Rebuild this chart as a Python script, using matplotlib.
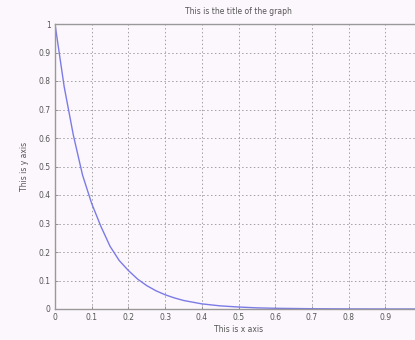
import numpy as np
import matplotlib
matplotlib.use("Agg")
import matplotlib.pyplot as plt

# decay curve sampled along x
x = [0.0, 0.025, 0.05, 0.075, 0.1, 0.125, 0.15, 0.175, 0.2, 0.225, 0.25,
     0.275, 0.3, 0.325, 0.35, 0.375, 0.4, 0.45, 0.5, 0.55, 0.6, 0.7,
     0.8, 0.9, 1.0]
y = [1.0, 0.78, 0.61, 0.47, 0.37, 0.29, 0.22, 0.17, 0.135, 0.105, 0.082,
     0.064, 0.05, 0.039, 0.03, 0.024, 0.018, 0.011, 0.007, 0.004, 0.0025,
     0.001, 0.0003, 0.0001, 0.0]

xticks = [0, 0.1, 0.2, 0.3, 0.4, 0.5, 0.6, 0.7, 0.8, 0.9]
xticklabels = ["0", "0.1", "0.2", "0.3", "0.4", "0.5", "0.6", "0.7", "0.8", "0.9"]
yticks = [0, 0.1, 0.2, 0.3, 0.4, 0.5, 0.6, 0.7, 0.8, 0.9, 1.0]
yticklabels = ["0", "0.1", "0.2", "0.3", "0.4", "0.5", "0.6", "0.7", "0.8", "0.9", "1"]

bg = "#fcf7fc"
txt = "#555555"

fig = plt.figure(figsize=(4.15, 3.4), dpi=100, facecolor=bg)
W, H = 415, 340
ax = fig.add_axes([55 / W, (H - 309) / H, (422 - 55) / W, (309 - 24) / H])
ax.set_facecolor(bg)

ax.plot(x, y, color="#7b7be6", lw=1.0)

ax.set_xlim(0, 1)
ax.set_ylim(0, 1)
ax.set_xticks(xticks)
ax.set_xticklabels(xticklabels)
ax.set_yticks(yticks)
ax.set_yticklabels(yticklabels)
ax.grid(True, color="#a0a0a0", linestyle=(0, (1.5, 2.5)), lw=0.7)
ax.tick_params(direction="in", length=2, width=0.6, colors="#888888",
               labelcolor=txt, labelsize=5.5, pad=3)
for s in ax.spines.values():
    s.set_color("#999999")
    s.set_linewidth(1.0)

ax.set_title("This is the title of the graph", fontsize=5.5, color=txt, pad=7)
ax.set_xlabel("This is x axis", fontsize=5.5, color=txt, labelpad=2)
ax.set_ylabel("This is y axis", fontsize=5.5, color=txt, labelpad=7)

fig.savefig("out.png", dpi=100, facecolor=bg)
